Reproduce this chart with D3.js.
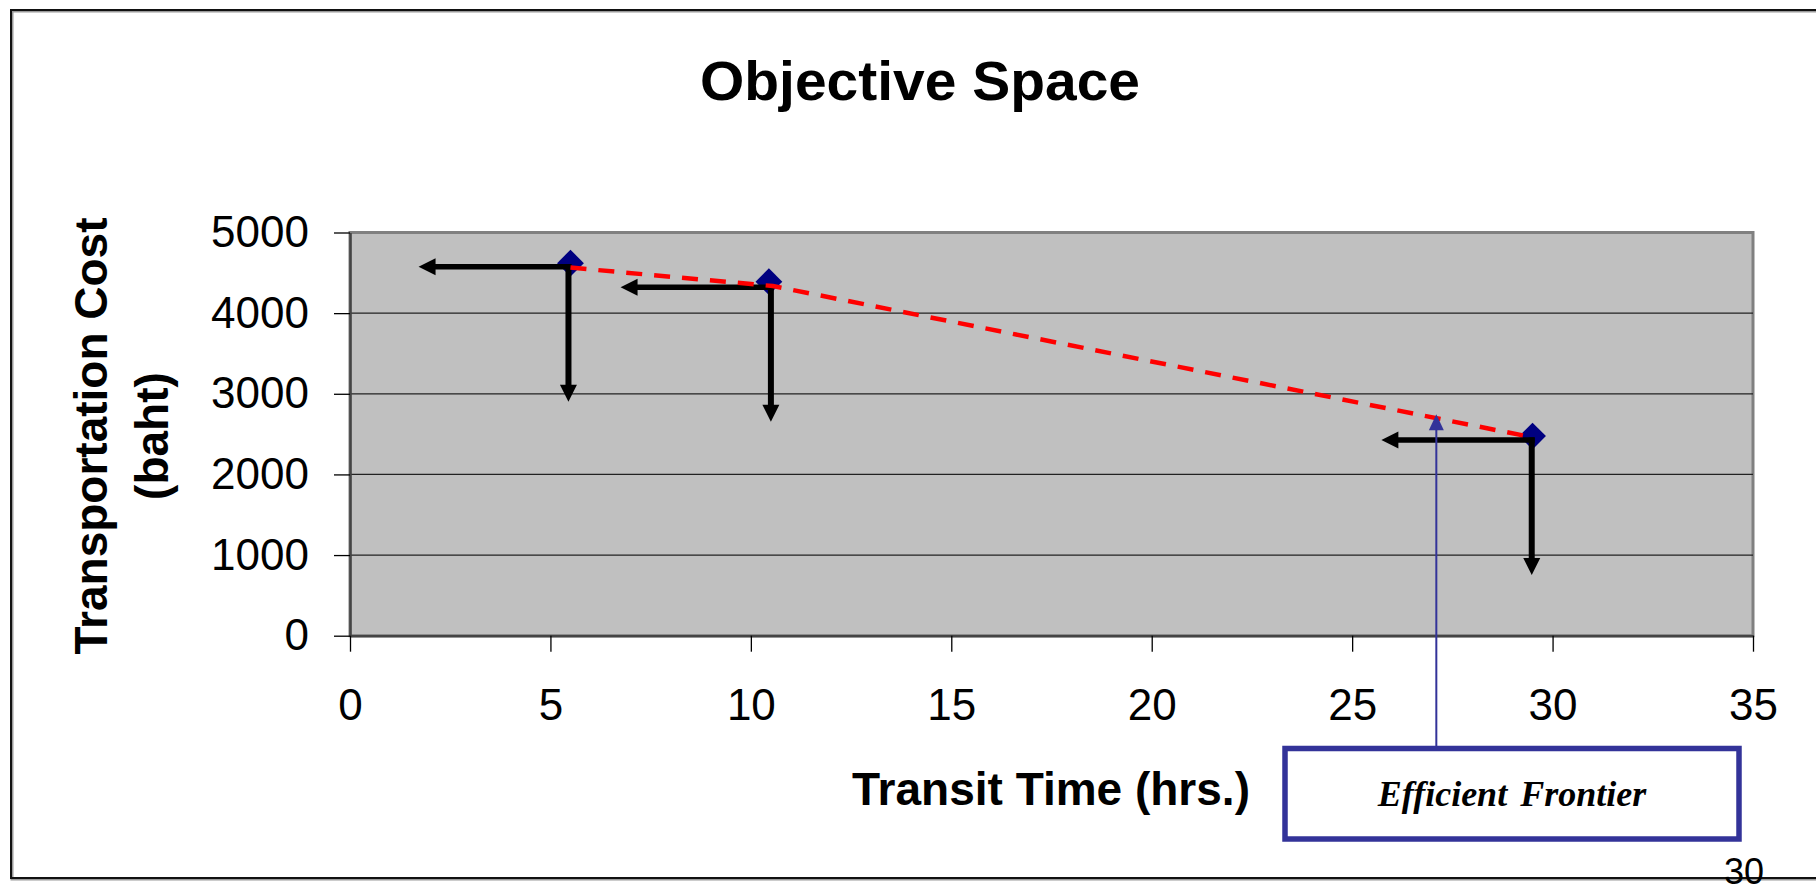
<!DOCTYPE html>
<html>
<head>
<meta charset="utf-8">
<script src="https://cdn.jsdelivr.net/npm/d3@7"></script>
<style>
  body { margin: 0; background: #fff; }
  svg { display: block; }
</style>
</head>
<body>
<div id="chart"></div>
<script>
// points (transit time, cost)
var timeHrs = [5.5, 10.45, 29.5];
var costBaht = [4620, 4390, 2475];

// red dashed frontier line
var frontierHrs = [5.5, 10.55, 29.45];
var frontierCost = [4565, 4336, 2465];

// dominance arrows: corner, left tip, down tip
var arrowHrs = [5.45, 10.5, 29.48];
var arrowCost = [4575, 4321, 2427];
var arrowLeftTip = [1.71, 6.75, 25.73];
var arrowDownTip = [2902, 2654, 753];

// pointer from the label box to the frontier
var pointerHrs = 27.1;
var pointerCost = 2745;

var xTicks = [0, 5, 10, 15, 20, 25, 30, 35];
var yTicks = [0, 1000, 2000, 3000, 4000, 5000];

function init() {
    var W = 1816, H = 885;
    var left = 350, right = 1753, top = 232.5, bottom = 635.7;

    var svg = d3.select("#chart").append("svg")
        .attr("width", W)
        .attr("height", H);

    // slide frame
    var frame = svg.append("g").attr("fill", "none");
    frame.append("path")
        .attr("d", "M1816,11 H12 V879 H1816")
        .attr("stroke", "#9a9a9a").attr("stroke-width", 3);
    frame.append("path")
        .attr("d", "M1816,10 H11 V878 H1816")
        .attr("stroke", "#111").attr("stroke-width", 2);

    var x = d3.scaleLinear().domain([0, 35]).range([left, right]);
    var y = d3.scaleLinear().domain([0, 5000]).range([bottom, top]);

    // plot area
    svg.append("rect")
        .attr("x", left).attr("y", top)
        .attr("width", right - left).attr("height", bottom - top)
        .attr("fill", "#c0c0c0")
        .attr("stroke", "#808080")
        .attr("stroke-width", 3);

    svg.append("g").selectAll("line")
        .data(yTicks.filter(function (d) { return d > 0 && d < 5000; }))
        .enter().append("line")
        .attr("x1", left).attr("x2", right)
        .attr("y1", function (d) { return y(d); })
        .attr("y2", function (d) { return y(d); })
        .attr("stroke", "#222").attr("stroke-width", 1.2);

    var yAxis = svg.append("g")
        .attr("transform", "translate(" + left + ",0)")
        .call(d3.axisLeft(y).tickValues(yTicks).tickFormat(d3.format("d"))
            .tickSize(16).tickPadding(25).tickSizeOuter(0));
    var xAxis = svg.append("g")
        .attr("transform", "translate(0," + bottom + ")")
        .call(d3.axisBottom(x).tickValues(xTicks).tickFormat(d3.format("d"))
            .tickSize(16).tickPadding(37).tickSizeOuter(0));

    [xAxis, yAxis].forEach(function (a) {
        a.select(".domain").attr("stroke", "#444").attr("stroke-width", 2.5);
        a.selectAll(".tick line").attr("stroke", "#000").attr("stroke-width", 1.3);
        a.selectAll("text")
            .attr("fill", "#000")
            .style("font-family", "Arial, 'Liberation Sans', sans-serif")
            .style("font-size", "44px");
    });

    // markers
    svg.append("g").selectAll("path")
        .data(timeHrs)
        .enter().append("path")
        .attr("d", d3.symbol(d3.symbolSquare, 360))
        .attr("transform", function (d, i) {
            return "translate(" + x(d) + "," + y(costBaht[i]) + ") rotate(45)";
        })
        .attr("fill", "#000080");

    // dominance arrows
    var arr = svg.append("g");
    var head = 17;
    arrowHrs.forEach(function (d, i) {
        var cx = x(d), cy = y(arrowCost[i]);
        var lx = x(arrowLeftTip[i]), dy = y(arrowDownTip[i]);
        arr.append("line")
            .attr("x1", cx + 3).attr("y1", cy)
            .attr("x2", lx + head - 1).attr("y2", cy)
            .attr("stroke", "#000").attr("stroke-width", 5.5);
        arr.append("line")
            .attr("x1", cx).attr("y1", cy - 2.5)
            .attr("x2", cx).attr("y2", dy - head + 1)
            .attr("stroke", "#000").attr("stroke-width", 6);
        arr.append("path")
            .attr("d", "M" + lx + "," + cy + " L" + (lx + head) + "," + (cy - 8.5) + " L" + (lx + head) + "," + (cy + 8.5) + "Z")
            .attr("fill", "#000");
        arr.append("path")
            .attr("d", "M" + cx + "," + dy + " L" + (cx - 8.5) + "," + (dy - head) + " L" + (cx + 8.5) + "," + (dy - head) + "Z")
            .attr("fill", "#000");
    });

    // efficient frontier
    var line = d3.line()
        .x(function (d) { return x(d); })
        .y(function (d, i) { return y(frontierCost[i]); });
    svg.append("path")
        .datum(frontierHrs)
        .attr("d", line)
        .attr("fill", "none")
        .attr("stroke", "#ff0000")
        .attr("stroke-width", 4.5)
        .attr("stroke-dasharray", "16,12");

    // label box with pointer
    var boxX = 1285, boxY = 748.5, boxW = 454, boxH = 90.5;
    var px = x(pointerHrs), py = y(pointerCost);
    svg.append("line")
        .attr("x1", px).attr("y1", boxY)
        .attr("x2", px).attr("y2", py + 14)
        .attr("stroke", "#333399").attr("stroke-width", 2);
    svg.append("path")
        .attr("d", "M" + px + "," + py + " L" + (px - 7.5) + "," + (py + 16) + " L" + (px + 7.5) + "," + (py + 16) + "Z")
        .attr("fill", "#333399");
    svg.append("rect")
        .attr("x", boxX).attr("y", boxY)
        .attr("width", boxW).attr("height", boxH)
        .attr("fill", "#fff")
        .attr("stroke", "#333399")
        .attr("stroke-width", 5.5);
    svg.append("text")
        .attr("x", boxX + boxW / 2).attr("y", 806)
        .attr("text-anchor", "middle")
        .style("font-family", "'Times New Roman', 'Liberation Serif', serif")
        .style("font-weight", "bold")
        .style("font-style", "italic")
        .style("font-size", "36px")
        .style("word-spacing", "4px")
        .text("Efficient Frontier");

    // titles
    svg.append("text")
        .attr("x", 920).attr("y", 100)
        .attr("text-anchor", "middle")
        .attr("textLength", 440)
        .attr("lengthAdjust", "spacingAndGlyphs")
        .style("font-family", "Arial, 'Liberation Sans', sans-serif")
        .style("font-weight", "bold")
        .style("font-size", "56px")
        .text("Objective Space");

    svg.append("text")
        .attr("x", 1051).attr("y", 805)
        .attr("text-anchor", "middle")
        .style("font-family", "Arial, 'Liberation Sans', sans-serif")
        .style("font-weight", "bold")
        .style("font-size", "46px")
        .text("Transit Time (hrs.)");

    var yt = svg.append("text")
        .attr("transform", "translate(0," + 436 + ") rotate(-90)")
        .attr("text-anchor", "middle")
        .style("font-family", "Arial, 'Liberation Sans', sans-serif")
        .style("font-weight", "bold")
        .style("font-size", "46px");
    yt.append("tspan").attr("x", 0).attr("y", 107).text("Transportation Cost");
    yt.append("tspan").attr("x", 0).attr("y", 168).text("(baht)");

    // page number
    svg.append("text")
        .attr("x", 1744).attr("y", 884)
        .attr("text-anchor", "middle")
        .style("font-family", "Arial, 'Liberation Sans', sans-serif")
        .style("font-size", "36px")
        .text("30");
}

init();
</script>
</body>
</html>
